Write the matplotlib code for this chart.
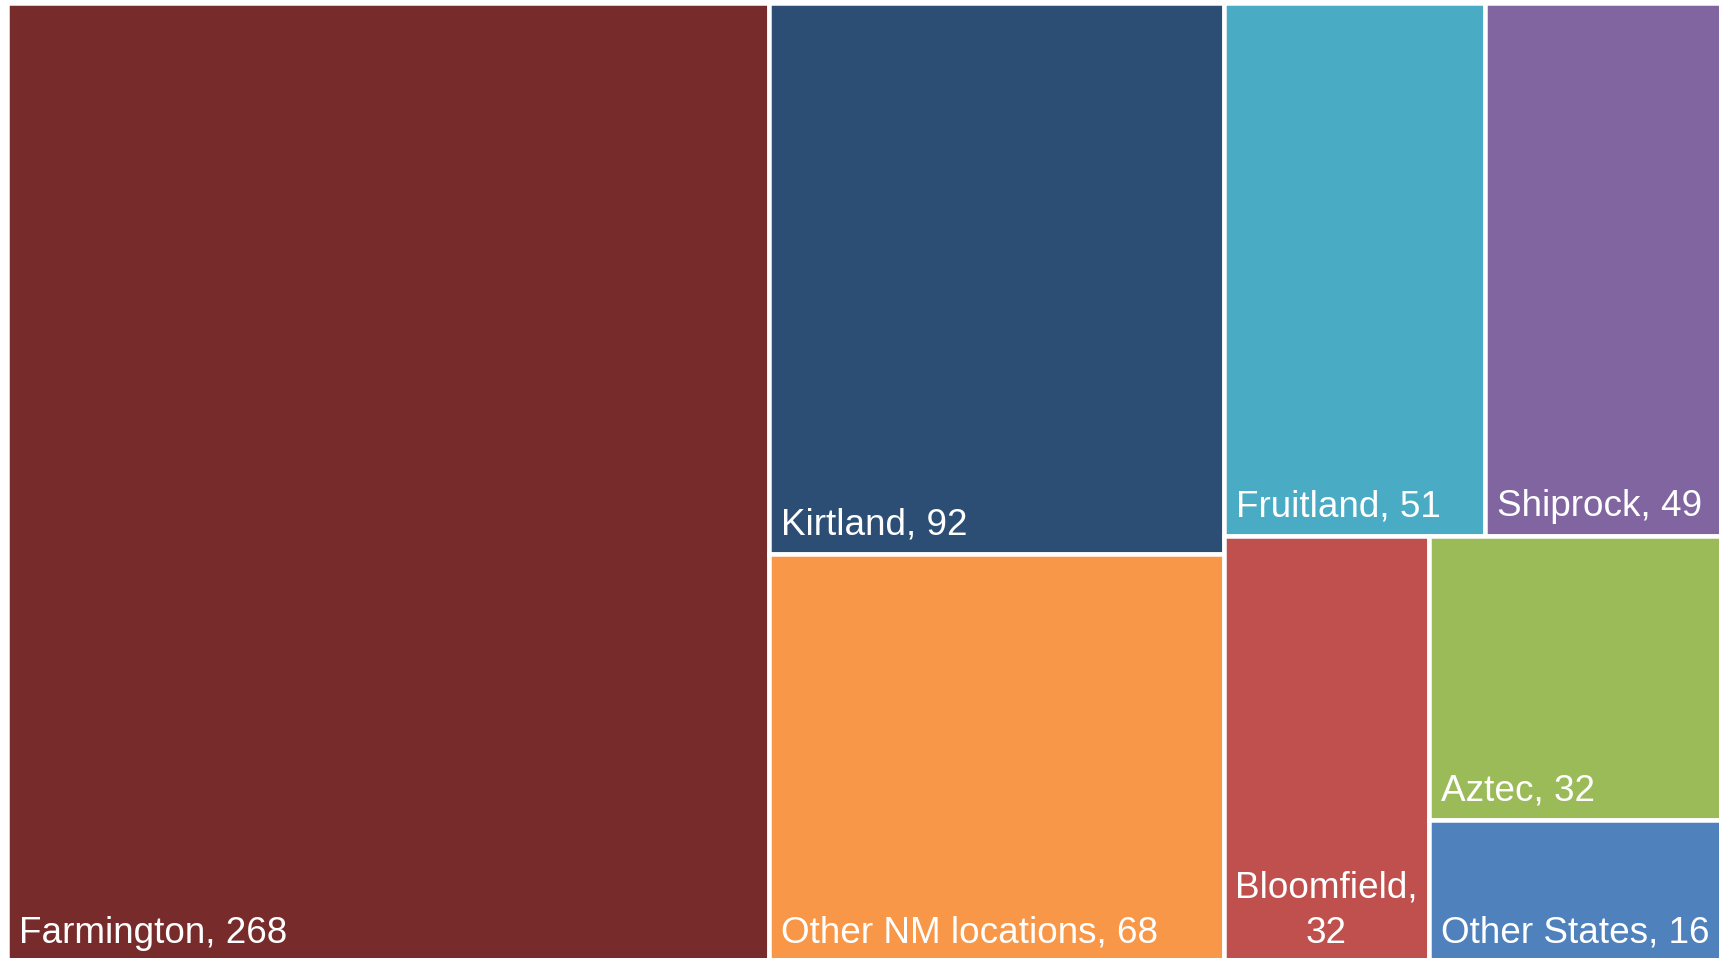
import matplotlib
matplotlib.use("Agg")
import matplotlib.pyplot as plt
from matplotlib.patches import Rectangle

# ---- data ----
names = ["Farmington", "Kirtland", "Other NM locations", "Fruitland", "Shiprock",
         "Bloomfield", "Aztec", "Other States"]
values = [268, 92, 68, 51, 49, 32, 32, 16]
colors = ["#772B2B", "#2C4E75", "#F79747", "#4AABC5", "#8065A1",
          "#C0504E", "#9BBB59", "#4F81BD"]
wrapped = {"Bloomfield": "Bloomfield,\n32"}

# nested arrangement: 'h' = side by side, 'v' = stacked
tree = ("h", [0, ("v", [1, 2]), ("v", [("h", [3, 4]), ("h", [5, ("v", [6, 7])])])])

def total(node):
    if isinstance(node, int):
        return values[node]
    return sum(total(c) for c in node[1])

rects = {}
def layout(node, x, y, w, h):
    if isinstance(node, int):
        rects[node] = (x, y, w, h)
        return
    d, kids = node
    s = total(node)
    pos = 0.0
    for k in kids:
        f = total(k) / s
        if d == "h":
            layout(k, x + pos * w, y, f * w, h)
        else:
            layout(k, x, y + pos * h, w, f * h)
        pos += f

W, H = 1719, 958
fig = plt.figure(figsize=(W / 100, H / 100), dpi=100)
ax = fig.add_axes([0, 0, 1, 1])
ax.set_xlim(0, W)
ax.set_ylim(H, 0)
ax.axis("off")

X0, Y0, X1, Y1 = 7.0, 2.5, 1736.0, 962.0
layout(tree, X0, Y0, X1 - X0, Y1 - Y0)

gap = 4.5  # white separator in pixels
lw_pt = gap * 72 / 100

ax.plot([6, 6], [2, H], color="#D9D9D9", lw=0.8, zorder=0)
ax.plot([6, W], [2, 2], color="#D9D9D9", lw=0.8, zorder=0)

fs = 26.6
fam = ["Liberation Sans", "DejaVu Sans"]
for i, (x, y, w, h) in rects.items():
    ax.add_patch(Rectangle((x, y), w, h, facecolor=colors[i], edgecolor="white",
                           linewidth=lw_pt, zorder=1))
    cl = x + gap / 2
    cb = y + h - gap / 2
    if names[i] in wrapped:
        ax.text(x + w / 2, cb - 17, wrapped[names[i]], ha="center", va="baseline",
                multialignment="center", color="white", fontsize=fs,
                family=fam, linespacing=1.37, zorder=2)
    else:
        ax.text(cl + 10, cb - 17, f"{names[i]}, {values[i]}", ha="left", va="baseline",
                color="white", fontsize=fs, family=fam, zorder=2)

fig.savefig("out.png", dpi=100, facecolor="white")
